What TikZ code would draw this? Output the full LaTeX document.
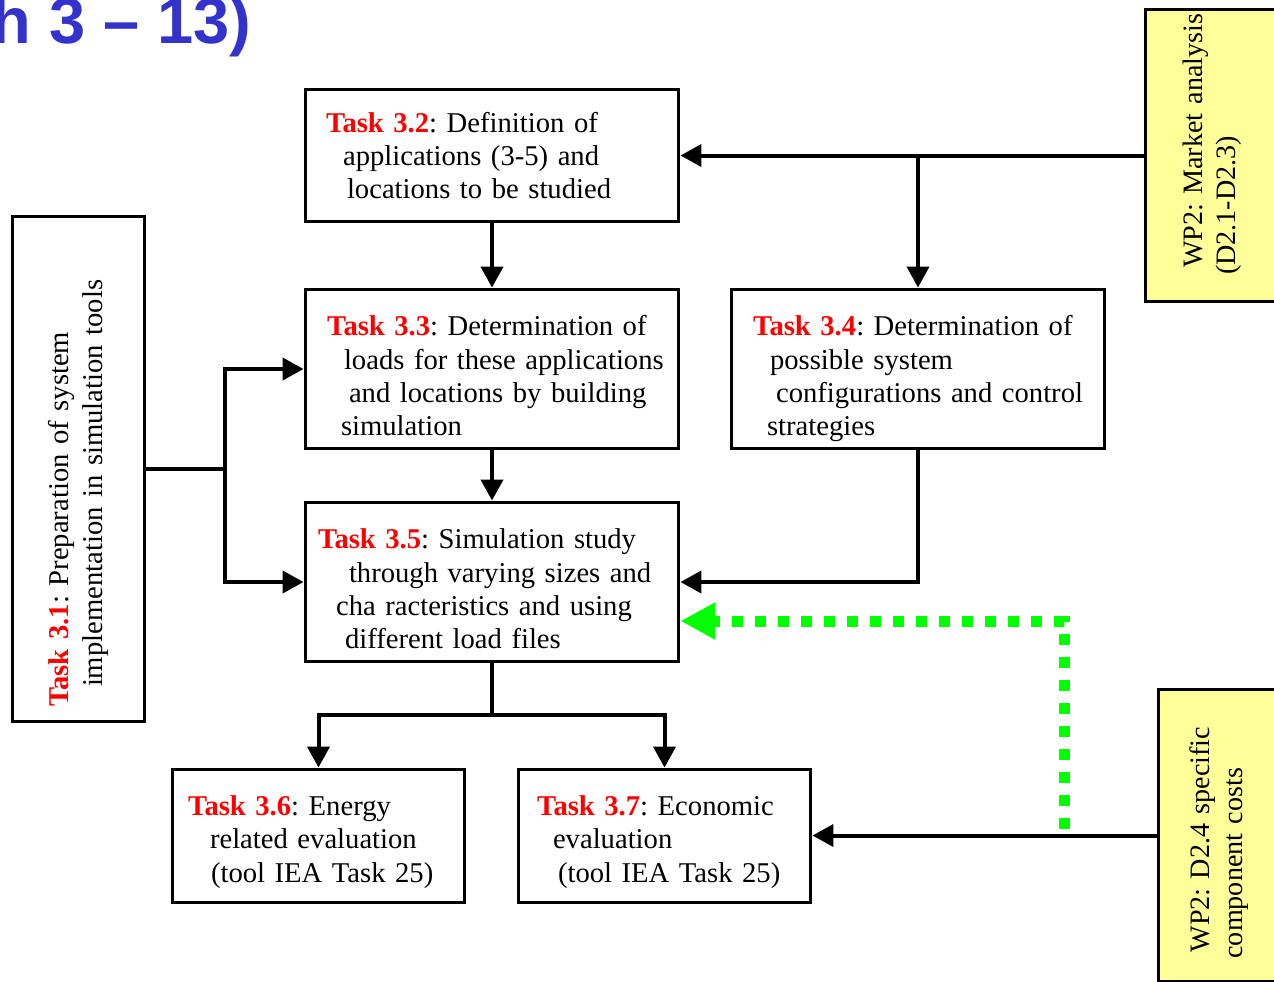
\documentclass[tikz,border=0pt]{standalone}
\usepackage{fontspec}
\setmainfont{Liberation Serif}
\newfontfamily\headfont{Liberation Sans}
\usetikzlibrary{arrows.meta,calc}

\definecolor{taskred}{RGB}{255,0,0}
\definecolor{wpyellow}{RGB}{255,255,153}
\definecolor{fbgreen}{RGB}{0,255,0}
\definecolor{headblue}{RGB}{51,51,204}
\newcommand{\tasklabel}[1]{\textcolor{taskred}{\textbf{Task #1}}}

\tikzset{
  taskbox/.style={draw, line width=0.06cm, align=left, inner xsep=0.1cm, font=\fontsize{16.3}{19}\selectfont\frenchspacing},
  wpbox/.style={taskbox, fill=wpyellow, rotate=90, font=\fontsize{16}{19}\selectfont\frenchspacing},
  flow/.style={line width=0.08cm, -{Triangle[length=0.42cm,width=0.44cm]}},
  feedback/.style={fbgreen, line width=0.22cm, dash pattern=on 0.22cm off 0.24cm, -{Triangle[length=0.7cm,width=0.7cm]}},
}

\begin{document}
\begin{tikzpicture}[x=0.02cm, y=-0.02cm]
\useasboundingbox (0,0) rectangle (1274,981);
\clip (0,0) rectangle (1274,981);

\node[anchor=base east, inner sep=0pt, text=headblue, font={\headfont\bfseries\fontsize{37}{42}\selectfont}] (head) at (252,43) {h 3 – 13)};

% tasks
\node[taskbox, text width=7.28cm, minimum height=2.66cm] (t32) at (492,155.5) {\hspace*{0.32cm}\tasklabel{3.2}: Definition of\\
\hspace*{0.66cm}applications (3-5) and\\
\hspace*{0.74cm}locations to be studied};
\node[taskbox, text width=7.28cm, minimum height=3.2cm] (t33) at (492,369) {\rule{0pt}{0.68cm}\hspace*{0.34cm}\tasklabel{3.3}: Determination of\\
\hspace*{0.68cm}loads for these applications\\
\hspace*{0.78cm}and locations by building\\
\hspace*{0.62cm}simulation};
\node[taskbox, text width=7.28cm, minimum height=3.2cm] (t34) at (918,369) {\rule{0pt}{0.8cm}\hspace*{0.34cm}\tasklabel{3.4}: Determination of\\
\hspace*{0.68cm}possible system\\
\hspace*{0.80cm}configurations and control\\
\hspace*{0.62cm}strategies};
\node[taskbox, text width=7.28cm, minimum height=3.2cm] (t35) at (492,582) {\rule{0pt}{0.68cm}\hspace*{0.16cm}\tasklabel{3.5}: Simulation study\\
\hspace*{0.78cm}through varying sizes and\\
\hspace*{0.52cm}cha racteristics and using\\
\hspace*{0.70cm}different load files};
\node[taskbox, text width=5.66cm, minimum height=2.66cm] (t36) at (318.5,835.5) {\rule{0pt}{0.66cm}\hspace*{0.22cm}\tasklabel{3.6}: Energy\\
\hspace*{0.66cm}related evaluation\\
\hspace*{0.68cm}(tool IEA Task 25)};
\node[taskbox, text width=5.66cm, minimum height=2.66cm] (t37) at (664.5,835.5) {\rule{0pt}{0.66cm}\hspace*{0.28cm}\tasklabel{3.7}: Economic\\
\hspace*{0.60cm}evaluation\\
\hspace*{0.70cm}(tool IEA Task 25)};
\node[taskbox, rotate=90, text width=9.92cm, minimum height=2.66cm] (t31) at (78.5,469) {\hspace*{0.2cm}\tasklabel{3.1}: Preparation of system\\
\hspace*{0.6cm}implementation in simulation tools\par\vspace{0.3cm}};

% WP2 inputs
\node[wpbox, text width=5.64cm, minimum height=2.7cm] (wp2a) at (1212.5,155.5) {\hspace*{0.57cm}\mbox{WP2: Market analysis}\\
\hspace*{0.43cm}(D2.1-D2.3)\par\vspace{0.3cm}};
\node[wpbox, text width=5.64cm, minimum height=2.44cm] (wp2b) at (1219,835.5) {\hspace*{0.48cm}WP2: D2.4 specific\\
\hspace*{0.36cm}component costs\par\vspace{0.36cm}};

\coordinate (split1) at (t34.north |- t32.east);
\coordinate (split2) at (225,469);
\coordinate (split3) at (492,715);
\coordinate (fb) at (1064,829);

\draw[flow] (wp2a.north) -- (t32.east);
\draw[flow] (split1) -- (t34.north);
\draw[flow] (t32.south) -- (t33.north);
\draw[flow] (t33.south) -- (t35.north);
\draw[flow] (t34.south) |- (t35.east);
\draw[line width=0.08cm] (t31.south) -- (split2);
\draw[flow] (split2) |- (t33.west);
\draw[flow] (split2) |- (t35.west);
\draw[line width=0.08cm] (t35.south) -- (split3);
\draw[flow] (split3) -| (t36.north);
\draw[flow] (split3) -| (t37.north);
\draw[flow] (wp2b.north) -- (t37.east);
\draw[feedback] (fb) |- ([yshift=-0.78cm]t35.east);
\end{tikzpicture}
\end{document}
